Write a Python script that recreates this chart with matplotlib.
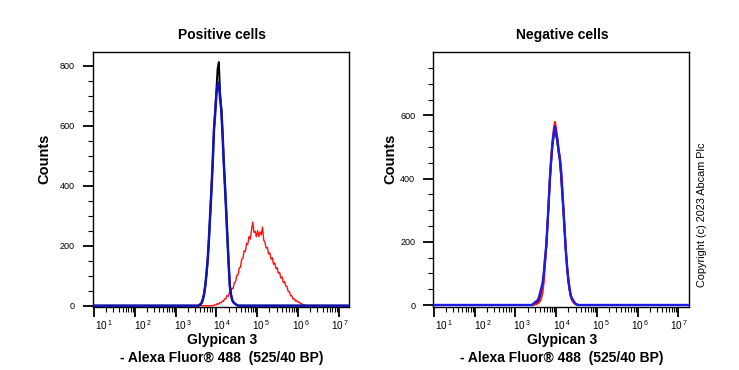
import numpy as np
import matplotlib
matplotlib.use("Agg")
import matplotlib.pyplot as plt
from matplotlib.ticker import FixedLocator, MultipleLocator, LogLocator, NullFormatter
from matplotlib.transforms import ScaledTranslation

plt.rcParams['font.family'] = ['Liberation Sans', 'DejaVu Sans']
plt.rcParams['mathtext.fontset'] = 'custom'
plt.rcParams['mathtext.rm'] = 'Liberation Sans'
plt.rcParams['mathtext.it'] = 'Liberation Sans'

# ---------------- data (log10 intensity grid start/step, counts) ----------------
step = 0.03
# Positive cells
pos_red_start = 3.90
pos_red_counts = [0, 1, 3, 2, 7, 5, 10, 9, 15, 14, 23, 22, 34, 31, 45, 44, 58, 57, 77, 80,
                  101, 103, 126, 128, 155, 158, 183, 181, 208, 205, 231, 222, 252, 279, 244,
                  248, 230, 250, 231, 246, 236, 262, 219, 211, 192, 194, 172, 176, 155, 160,
                  138, 143, 123, 127, 108, 111, 92, 96, 77, 81, 65, 64, 47, 46, 33, 33, 22,
                  23, 15, 17, 11, 12, 7, 7, 3, 3, 1, 0]
pos_black_start = 3.55
pos_black_counts = [0, 2, 5, 10, 22, 40, 70, 110, 160, 230, 310, 390, 480, 585, 650, 720, 790,
                    812, 710, 655, 575, 480, 400, 315, 225, 140, 65, 35, 18, 11, 7, 4, 2, 0]
pos_blue_start = 3.55
pos_blue_counts = [0, 2, 5, 10, 22, 40, 70, 110, 160, 230, 310, 390, 480, 585, 640, 705, 735,
                   745, 690, 655, 575, 480, 400, 315, 225, 140, 65, 35, 18, 11, 7, 4, 2, 0]
# Negative cells
neg_black_start = 3.40
neg_black_counts = [0, 1, 2, 4, 6, 9, 15, 30, 48, 66, 100, 145, 188, 258, 328, 402, 458, 505,
                    535, 552, 540, 515, 485, 460, 415, 355, 298, 232, 168, 118, 78, 50, 29, 18,
                    12, 7, 3, 1, 0]
neg_red_start = 3.40
neg_red_counts = [0, 0, 1, 2, 3, 5, 8, 14, 24, 42, 75, 130, 185, 255, 330, 410, 470, 520, 555,
                  580, 560, 530, 495, 470, 440, 385, 310, 240, 175, 125, 82, 50, 28, 15, 9, 5,
                  2, 1, 0]
neg_blue_start = 3.40
neg_blue_counts = [0, 3, 6, 10, 12, 16, 25, 40, 55, 70, 105, 150, 190, 260, 330, 405, 460, 510,
                   540, 565, 540, 525, 490, 465, 420, 360, 300, 235, 170, 120, 80, 52, 30, 20,
                   15, 8, 4, 2, 0]

titles = ["Positive cells", "Negative cells"]
xlabel1 = "Glypican 3"
xlabel2 = "- Alexa Fluor\u00ae 488  (525/40 BP)"
ylabel = "Counts"
x_decades = [1, 2, 3, 4, 5, 6, 7]
pos_yticks = [0, 200, 400, 600, 800]
neg_yticks = [0, 200, 400, 600]
copyright_text = "Copyright (c) 2023 Abcam Plc"


def series(start, counts, lo, hi):
    logs = start + step * np.arange(len(counts))
    logs = np.concatenate([[lo], logs, [hi]])
    c = np.concatenate([[0], counts, [0]])
    return 10 ** logs, c


fig = plt.figure(figsize=(7.39, 3.70), dpi=100)

ax1 = fig.add_axes([93 / 739, 1 - 306.7 / 370, 256 / 739, 255 / 370])
ax2 = fig.add_axes([433.3 / 739, 1 - 307 / 370, 255.7 / 739, 254.7 / 370])

lo1, hi1 = 0.9755, 7.25
lo2, hi2 = 0.983, 7.265

x, y = series(pos_red_start, pos_red_counts, lo1, hi1)
ax1.plot(x, y, color='#ff1010', lw=1.0, zorder=2)
x, y = series(pos_black_start, pos_black_counts, lo1, hi1)
ax1.plot(x, y, color='#000000', lw=1.4, zorder=3)
x, y = series(pos_blue_start, pos_blue_counts, lo1, hi1)
ax1.plot(x, y, color='#1414b4', lw=1.8, zorder=4)

x, y = series(neg_black_start, neg_black_counts, lo2, hi2)
ax2.plot(x, y, color='#000000', lw=1.4, zorder=2)
x, y = series(neg_red_start, neg_red_counts, lo2, hi2)
ax2.plot(x, y, color='#ff1010', lw=1.4, zorder=3)
x, y = series(neg_blue_start, neg_blue_counts, lo2, hi2)
ax2.plot(x, y, color='#1c1ce6', lw=1.7, zorder=4)

ax1.set_xlim(10 ** lo1, 10 ** hi1)
ax1.set_ylim(-3.3, 846.7)
ax2.set_xlim(10 ** lo2, 10 ** hi2)
ax2.set_ylim(-6.3, 799.7)

for ax, yt, title, cx in [(ax1, pos_yticks, titles[0], 222), (ax2, neg_yticks, titles[1], 562)]:
    ax.set_xscale('log')
    ax.xaxis.set_major_locator(FixedLocator([10 ** d for d in x_decades]))
    ax.set_xticklabels([r'$10^{\,%d}$' % d for d in x_decades])
    ax.xaxis.set_minor_locator(LogLocator(base=10, subs=np.arange(2, 10), numticks=20))
    ax.xaxis.set_minor_formatter(NullFormatter())
    ax.yaxis.set_major_locator(FixedLocator(yt))
    ax.yaxis.set_minor_locator(MultipleLocator(50))
    ax.tick_params(axis='both', which='major', direction='out', length=7, width=1.3,
                   colors='black', labelsize=6.5)
    ax.tick_params(axis='both', which='minor', direction='out', length=3.5, width=0.8)
    ax.tick_params(axis='x', which='major', labelsize=7.2, pad=1)
    ax.tick_params(axis='y', which='major', pad=6)
    for s in ax.spines.values():
        s.set_linewidth(1.0)
        s.set_color('black')
    labs = ax.get_xticklabels()
    for i, lab in enumerate(labs):
        dx = (10 - i * 1.5) / 100.0
        lab.set_transform(lab.get_transform() + ScaledTranslation(dx, 0, fig.dpi_scale_trans))
    fig.text(cx / 739, 1 - 35 / 370, title, ha='center', va='center',
             fontsize=10, fontweight='bold')
    fig.text(cx / 739, 1 - 340 / 370, xlabel1, ha='center', va='center',
             fontsize=10, fontweight='bold')
    fig.text(cx / 739, 1 - 358 / 370, xlabel2, ha='center', va='center',
             fontsize=10, fontweight='bold')

fig.text(44 / 739, 1 - 159 / 370, ylabel, rotation=90, ha='center', va='center',
         fontsize=10.5, fontweight='bold')
fig.text(390 / 739, 1 - 159 / 370, ylabel, rotation=90, ha='center', va='center',
         fontsize=10.5, fontweight='bold')
fig.text(702 / 739, 1 - 215 / 370, copyright_text, rotation=90, ha='center', va='center',
         fontsize=7.8)

fig.savefig('out.png', dpi=100)
